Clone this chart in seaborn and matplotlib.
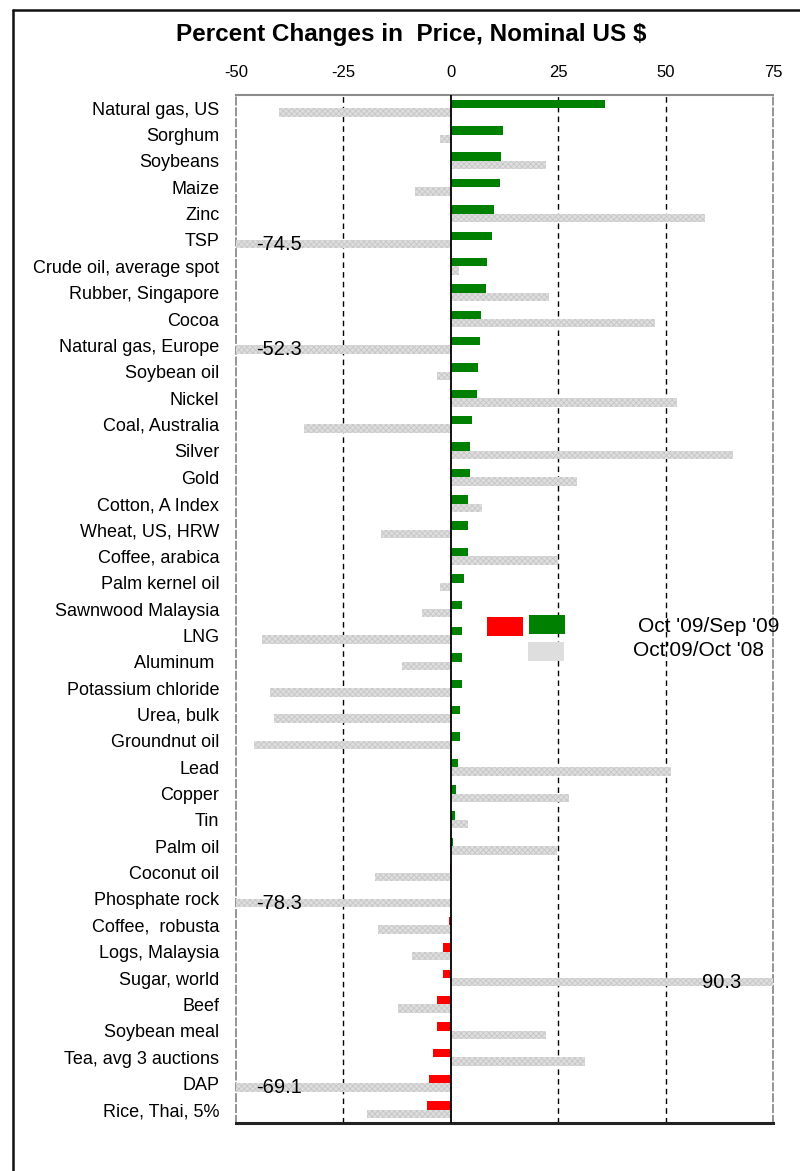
import matplotlib
matplotlib.use("Agg")
import matplotlib.pyplot as plt
from matplotlib.patches import Rectangle
from matplotlib.lines import Line2D
import seaborn as sns
import pandas as pd
import numpy as np

commodities = [
    "Natural gas, US", "Sorghum", "Soybeans", "Maize", "Zinc", "TSP",
    "Crude oil, average spot", "Rubber, Singapore", "Cocoa", "Natural gas, Europe",
    "Soybean oil", "Nickel", "Coal, Australia", "Silver", "Gold", "Cotton, A Index",
    "Wheat, US, HRW", "Coffee, arabica", "Palm kernel oil", "Sawnwood Malaysia", "LNG",
    "Aluminum ", "Potassium chloride", "Urea, bulk", "Groundnut oil", "Lead", "Copper",
    "Tin", "Palm oil", "Coconut oil", "Phosphate rock", "Coffee,  robusta",
    "Logs, Malaysia", "Sugar, world", "Beef", "Soybean meal", "Tea, avg 3 auctions",
    "DAP", "Rice, Thai, 5%",
]
chg_month = [
    35.8, 12.1, 11.7, 11.4, 10.0, 9.5, 8.5, 8.2, 7.1, 6.8,
    6.4, 6.0, 4.9, 4.5, 4.5, 4.1, 4.1, 4.1, 3.1, 2.7, 2.5,
    2.5, 2.5, 2.1, 2.1, 1.7, 1.3, 0.9, 0.6, -0.2, 0.0, -0.5,
    -1.7, -1.9, -3.1, -3.1, -4.1, -5.1, -5.6,
]
chg_year = [
    -39.9, -2.6, 22.2, -8.4, 59.2, -74.5, 2.0, 22.9, 47.6, -52.3,
    -3.1, 52.7, -34.2, 65.8, 29.4, 7.3, -16.2, 25.0, -2.4, -6.6, -44.0,
    -11.3, -42.2, -41.1, -45.7, 51.3, 27.5, 4.1, 24.8, -17.7, -78.3, -16.9,
    -9.0, 90.3, -12.3, 22.2, 31.2, -69.1, -19.5,
]
series_names = ["Oct '09/Sep '09", "Oct'09/Oct '08"]
x_ticks = [-50, -25, 0, 25, 50, 75]
x_min, x_max = -50, 75

GREEN = "#008000"
RED = "#ff0000"
GRAY = "#dedede"

sns.set_theme(style="white")
plt.rcParams["font.family"] = ["Liberation Sans", "DejaVu Sans"]
plt.rcParams["hatch.linewidth"] = 0.6
plt.rcParams["text.color"] = "black"

df = pd.DataFrame({
    "commodity": commodities * 2,
    "value": chg_month + chg_year,
    "series": [series_names[0]] * len(commodities) + [series_names[1]] * len(commodities),
})

W, H = 800, 1171
fig = plt.figure(figsize=(W / 100, H / 100), dpi=100)
ax = fig.add_axes([236 / W, 1 - 1123 / H, (773 - 236) / W, (1123 - 95) / H])

sns.barplot(data=df, y="commodity", x="value", hue="series", orient="h",
            dodge=True, width=0.64, palette=[GREEN, GRAY], errorbar=None,
            legend=False, linewidth=0, ax=ax)

# recolour month-on-month bars by sign; hatch year-on-year bars
for bar, v in zip(ax.containers[0], chg_month):
    bar.set_facecolor(GREEN if v >= 0 else RED)
    bar.set_edgecolor("none")
    bar.set_zorder(3)
for bar in ax.containers[1]:
    bar.set_facecolor(GRAY)
    bar.set_edgecolor("#c6c6c6")
    bar.set_hatch("xxxxxx")
    bar.set_linewidth(0)
    bar.set_zorder(3)

ax.set_xlim(x_min, x_max)
ax.set_ylim(len(commodities) - 0.5, -0.5)
ax.set_xticks(x_ticks)
ax.set_xticklabels([str(t) for t in x_ticks])
ax.xaxis.tick_top()
ax.tick_params(axis="x", length=0, pad=11, labelsize=12, colors="black")
ax.tick_params(axis="y", length=0, pad=12, labelsize=13, colors="black")
ax.set_xlabel("")
ax.set_ylabel("")
ax.grid(False)

for gx in [-25, 25, 50]:
    ax.axvline(gx, color="black", lw=1.0, ls=(0, (4, 3)), zorder=1)
ax.axvline(0, color="black", lw=1.3, zorder=4)

for side in ["left", "right"]:
    ax.spines[side].set_color("#8c8c8c")
    ax.spines[side].set_linestyle((0, (4, 2)))
    ax.spines[side].set_linewidth(1.3)
ax.spines["top"].set_color("#8c8c8c")
ax.spines["top"].set_linewidth(1.5)
ax.spines["bottom"].set_color("#222222")
ax.spines["bottom"].set_linewidth(2.2)

# labels for clipped values
for i, v in enumerate(chg_year):
    if v < x_min:
        ax.text(-40, i + 0.16, f"{v:.1f}", ha="center", va="center",
                fontsize=14.5, color="black", zorder=5)
    elif v > x_max:
        ax.text(63, i + 0.16, f"{v:.1f}", ha="center", va="center",
                fontsize=14.5, color="black", zorder=5)

# title
fig.text(411 / W, 1 - 34 / H, "Percent Changes in  Price, Nominal US $",
         ha="center", va="center", fontsize=17.5, fontweight="bold", color="black")

# legend (drawn manually, as in the original)
def frect(x0, y0, x1, y1, color):
    fig.patches.append(Rectangle((x0 / W, 1 - y1 / H), (x1 - x0) / W, (y1 - y0) / H,
                                 transform=fig.transFigure, facecolor=color,
                                 edgecolor="none", zorder=6))

frect(487, 617, 523, 636, RED)
frect(529, 615, 565, 634, GREEN)
frect(528, 642, 564, 661, GRAY)
fig.text(638 / W, 1 - 626 / H, series_names[0], ha="left", va="center",
         fontsize=15, color="black")
fig.text(633 / W, 1 - 651 / H, series_names[1], ha="left", va="center",
         fontsize=15, color="black")

# outer frame (left and top)
fig.add_artist(Line2D([13 / W, 13 / W], [0, 1 - 9.5 / H], transform=fig.transFigure,
                      color="#111111", lw=1.8))
fig.add_artist(Line2D([13 / W, 1], [1 - 9.5 / H, 1 - 9.5 / H], transform=fig.transFigure,
                      color="#111111", lw=1.8))

fig.savefig("out.png", dpi=100)
